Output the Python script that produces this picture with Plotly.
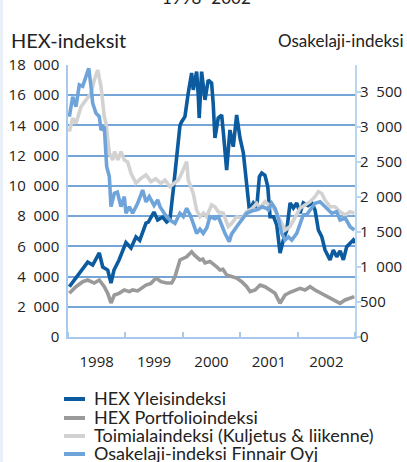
import pandas as pd
import plotly.graph_objects as go

# ---- data (time as decimal year) ----
yleis_t = [1998.023, 1998.139, 1998.279, 1998.343, 1998.430, 1998.545, 1998.605, 1998.692, 1998.749,
           1998.801, 1998.889, 1998.976, 1999.010, 1999.098, 1999.185, 1999.250, 1999.359, 1999.400,
           1999.498, 1999.563, 1999.650, 1999.720, 1999.777, 1999.834, 1999.894, 1999.951, 1999.981,
           2000.038, 2000.096, 2000.155, 2000.183, 2000.242, 2000.270, 2000.287, 2000.329, 2000.387,
           2000.444, 2000.503, 2000.530, 2000.561, 2000.618, 2000.678, 2000.706, 2000.765, 2000.822,
           2000.880, 2000.939, 2000.997, 2001.054, 2001.113, 2001.159, 2001.228, 2001.287, 2001.333,
           2001.375, 2001.430, 2001.479, 2001.519, 2001.580, 2001.636, 2001.693, 2001.751, 2001.810,
           2001.868, 2001.925, 2001.984, 2002.042, 2002.099, 2002.180, 2002.246, 2002.303, 2002.361,
           2002.420, 2002.477, 2002.564, 2002.622, 2002.681, 2002.740, 2002.796, 2002.855, 2002.913,
           2002.970, 2002.999]
yleis_v = [3330, 3900, 4630, 4960, 4760, 5560, 4630, 4430, 3570,
           4430, 5100, 5960, 6250, 5890, 6620, 6400, 7540, 7600,
           8270, 7740, 7940, 7610, 7800, 9730, 11710, 14000, 14250,
           14580, 16150, 17470, 16350, 17560, 16000, 14490, 17560, 15690,
           17000, 16800, 15500, 13170, 14490, 14690, 13590, 11050, 13700,
           12590, 14690, 13170, 12180, 9950, 8400, 8870, 8600, 10610,
           10850, 10700, 9950, 7960, 7960, 7410, 5560, 6420, 7080,
           8870, 8540, 8870, 8200, 8870, 8700, 8870, 8400, 7080,
           6640, 5760, 5100, 5760, 5310, 5700, 5100, 5980, 6220,
           6420, 6220]

portf_t = [1998.023, 1998.139, 1998.256, 1998.343, 1998.458, 1998.545, 1998.632, 1998.692, 1998.749,
           1998.807, 1998.889, 1998.981, 1999.070, 1999.127, 1999.214, 1999.359, 1999.446, 1999.533,
           1999.620, 1999.720, 1999.807, 1999.864, 1999.951, 2000.010, 2000.068, 2000.155, 2000.210,
           2000.300, 2000.350, 2000.387, 2000.474, 2000.591, 2000.650, 2000.700, 2000.765, 2000.850,
           2000.939, 2001.026, 2001.113, 2001.171, 2001.258, 2001.345, 2001.430, 2001.519, 2001.606,
           2001.693, 2001.780, 2001.868, 2001.955, 2002.042, 2002.129, 2002.216, 2002.303, 2002.420,
           2002.530, 2002.652, 2002.739, 2002.826, 2002.913, 2002.988]
portf_v = [2890, 3330, 3660, 3770, 3570, 3770, 3330, 2890, 2250,
           2780, 2890, 3110, 3000, 3110, 3050, 3440, 3550, 3900,
           3660, 3570, 3570, 3990, 5100, 5200, 5310, 5640, 5400,
           5100, 5150, 4900, 5000, 4650, 4430, 4480, 4100, 4000,
           3900, 3660, 3330, 3000, 3110, 3440, 3330, 3110, 2890,
           2230, 2780, 2960, 3110, 3220, 3110, 3330, 3110, 2890,
           2670, 2450, 2230, 2450, 2560, 2670]

toimi_t = [1998.023, 1998.082, 1998.139, 1998.226, 1998.314, 1998.401, 1998.458, 1998.517, 1998.575,
           1998.632, 1998.662, 1998.720, 1998.779, 1998.810, 1998.870, 1998.923, 1998.981, 1999.040,
           1999.098, 1999.185, 1999.272, 1999.359, 1999.446, 1999.530, 1999.620, 1999.690, 1999.777,
           1999.850, 1999.922, 1999.981, 2000.068, 2000.096, 2000.183, 2000.242, 2000.300, 2000.360,
           2000.416, 2000.503, 2000.560, 2000.618, 2000.706, 2000.793, 2000.850, 2000.939, 2001.030,
           2001.113, 2001.200, 2001.287, 2001.345, 2001.432, 2001.520, 2001.606, 2001.693, 2001.780,
           2001.868, 2001.955, 2002.042, 2002.129, 2002.216, 2002.303, 2002.361, 2002.420, 2002.477,
           2002.564, 2002.652, 2002.739, 2002.826, 2002.913, 2002.988]
toimi_v = [2934, 3125, 3050, 3290, 3387, 3482, 3672, 3815, 3577,
           3148, 3053, 2625, 2528, 2650, 2530, 2647, 2528, 2500,
           2339, 2196, 2267, 2315, 2219, 2260, 2196, 2243, 2148,
           2200, 2243, 2339, 2505, 2243, 2053, 1814, 1719, 1770,
           1719, 1887, 1860, 1790, 1768, 1576, 1620, 1719, 1700,
           1790, 1830, 1910, 1840, 1933, 1880, 1814, 1671, 1529,
           1580, 1719, 1840, 1887, 1933, 2005, 2077, 2050, 1958,
           1862, 1860, 1790, 1743, 1790, 1768]

finn_t = [1998.023, 1998.082, 1998.139, 1998.197, 1998.256, 1998.314, 1998.361, 1998.401, 1998.430,
          1998.488, 1998.545, 1998.575, 1998.632, 1998.674, 1998.720, 1998.749, 1998.807, 1998.860,
          1998.923, 1998.981, 1999.010, 1999.070, 1999.127, 1999.214, 1999.301, 1999.360, 1999.416,
          1999.500, 1999.563, 1999.603, 1999.690, 1999.777, 1999.864, 1999.951, 2000.010, 2000.068,
          2000.130, 2000.183, 2000.242, 2000.300, 2000.357, 2000.420, 2000.474, 2000.560, 2000.620,
          2000.678, 2000.735, 2000.810, 2000.850, 2000.939, 2001.030, 2001.113, 2001.200, 2001.300,
          2001.380, 2001.450, 2001.490, 2001.549, 2001.606, 2001.664, 2001.723, 2001.780, 2001.840,
          2001.897, 2001.984, 2002.042, 2002.099, 2002.160, 2002.216, 2002.303, 2002.390, 2002.450,
          2002.507, 2002.594, 2002.680, 2002.739, 2002.830, 2002.913, 2002.988]
finn_v = [3148, 3433, 3290, 3601, 3580, 3720, 3839, 3577, 3340,
          3196, 3150, 2958, 3005, 2433, 2291, 1862, 2053, 2070,
          1862, 2005, 1768, 1860, 1768, 1910, 2100, 1930, 2005,
          1880, 1958, 1862, 1750, 1671, 1624, 1768, 1720, 1840,
          1740, 1624, 1481, 1540, 1481, 1560, 1719, 1690, 1720,
          1600, 1481, 1362, 1470, 1576, 1670, 1768, 1800, 1820,
          1860, 1840, 1814, 1910, 1840, 1695, 1481, 1386, 1430,
          1386, 1481, 1624, 1743, 1750, 1814, 1910, 1933, 1880,
          1840, 1768, 1790, 1671, 1700, 1576, 1529]

series_names = ["HEX Yleisindeksi", "HEX Portfolioindeksi",
                "Toimialaindeksi (Kuljetus & liikenne)", "Osakelaji-indeksi Finnair Oyj"]
left_ticks = list(range(0, 18001, 2000))
left_labels = ["0", "2\u00a0\u00a0000", "4\u00a0\u00a0000", "6\u00a0\u00a0000", "8\u00a0\u00a0000",
               "10\u00a0\u00a0000", "12\u00a0\u00a0000", "14\u00a0\u00a0000", "16\u00a0\u00a0000",
               "18\u00a0\u00a0000"]
right_ticks = list(range(0, 3501, 500))
right_labels = ["0", "500", "1\u00a0\u00a0000", "1\u00a0\u00a0500", "2\u00a0\u00a0000",
                "2\u00a0\u00a0500", "3\u00a0\u00a0000", "3\u00a0\u00a0500"]


def to_dates(ts):
    out = []
    for t in ts:
        y = int(t)
        out.append(pd.Timestamp(year=y, month=1, day=1) + pd.Timedelta(days=(t - y) * 365.25))
    return out


COL_DARK = "#0b5b9e"
COL_GRAY = "#9a9a9a"
COL_LGRAY = "#d2d2d2"
COL_LBLUE = "#6fa4da"
colors = [COL_DARK, COL_GRAY, COL_LGRAY, COL_LBLUE]
GRID = "#76a5d8"
AXL = "#a9c9ec"
TXT = "#222222"
LW = 3.6
TITLE_FONT = "Lato, 'Open Sans', sans-serif"

fig = go.Figure()
fig.add_trace(go.Scatter(x=to_dates(yleis_t), y=yleis_v, name=series_names[0], mode="lines",
                         line=dict(color=COL_DARK, width=LW)))
fig.add_trace(go.Scatter(x=to_dates(portf_t), y=portf_v, name=series_names[1], mode="lines",
                         line=dict(color=COL_GRAY, width=LW)))
fig.add_trace(go.Scatter(x=to_dates(toimi_t), y=toimi_v, name=series_names[2], mode="lines",
                         line=dict(color=COL_LGRAY, width=LW), yaxis="y2"))
fig.add_trace(go.Scatter(x=to_dates(finn_t), y=finn_v, name=series_names[3], mode="lines",
                         line=dict(color=COL_LBLUE, width=LW), yaxis="y2"))

tickfont = dict(family="Open Sans", size=15, color=TXT)
PLOT_L, PLOT_W, PLOT_B, PLOT_H = 68, 287, 337, 272


def px_x(px):
    return (px - PLOT_L) / PLOT_W


def px_y(py):
    return (PLOT_B - py) / PLOT_H


annotations = [
    dict(text="HEX-indeksit", xref="paper", yref="paper", x=px_x(9), y=px_y(40), xanchor="left",
         yanchor="middle", showarrow=False, font=dict(family=TITLE_FONT, size=20, color=TXT)),
    dict(text="Osakelaji-indeksi", xref="paper", yref="paper", x=px_x(276), y=px_y(40), xanchor="left",
         yanchor="middle", showarrow=False, font=dict(family=TITLE_FONT, size=17, color=TXT)),
    dict(text="1998–2002", xref="paper", yref="paper", x=px_x(206), y=px_y(10), xanchor="center",
         yanchor="bottom", showarrow=False, font=dict(family=TITLE_FONT, size=17, color=TXT)),
]
shapes = [
    dict(type="rect", xref="paper", yref="paper", x0=px_x(0), x1=px_x(3), y0=px_y(462), y1=px_y(0),
         fillcolor="#e9eff7", line=dict(width=0), layer="below"),
]
legend_rows = [399, 418, 436, 454]
for name, col, ry in zip(series_names, colors, legend_rows):
    shapes.append(dict(type="line", xref="paper", yref="paper", x0=px_x(64), x1=px_x(85),
                       y0=px_y(ry), y1=px_y(ry), line=dict(color=col, width=4)))
    annotations.append(dict(text=name, xref="paper", yref="paper", x=px_x(92), y=px_y(ry - 1),
                            xanchor="left", yanchor="middle", showarrow=False,
                            font=dict(family=TITLE_FONT, size=18, color=TXT)))

fig.update_layout(
    width=407, height=462,
    margin=dict(l=68, r=52, t=65, b=125, autoexpand=False),
    paper_bgcolor="white", plot_bgcolor="white",
    showlegend=False,
    xaxis=dict(type="date", range=["1998-01-01", "2003-01-01"], dtick="M12", tick0="1998-01-01",
               tickformat="%Y", ticklabelmode="period", ticks="inside", ticklen=5,
               tickcolor=AXL, tickwidth=1.5, showgrid=False, showline=True, linecolor=AXL,
               linewidth=1.5, tickfont=tickfont, zeroline=False, ticklabelstandoff=10),
    yaxis=dict(range=[0, 18000], tickmode="array", tickvals=left_ticks, ticktext=left_labels,
               showgrid=True, gridcolor=GRID, gridwidth=2, showline=True, linecolor=AXL, linewidth=1.5,
               ticks="", tickfont=tickfont, zeroline=False, ticklabelstandoff=4),
    yaxis2=dict(range=[0, 3886], tickmode="array", tickvals=right_ticks, ticktext=right_labels,
                overlaying="y", side="right",
                showgrid=False, showline=True, linecolor="#b9d5f1", linewidth=2, ticks="outside",
                ticklen=4, tickcolor="#b9d5f1", tickwidth=1.5, tickfont=tickfont, zeroline=False,
                ticklabelstandoff=-4),
    annotations=annotations,
    shapes=shapes,
)

fig.write_html("out.html", config={"displayModeBar": False},
               post_script="document.body.style.margin='0';document.body.style.overflow='hidden';")
